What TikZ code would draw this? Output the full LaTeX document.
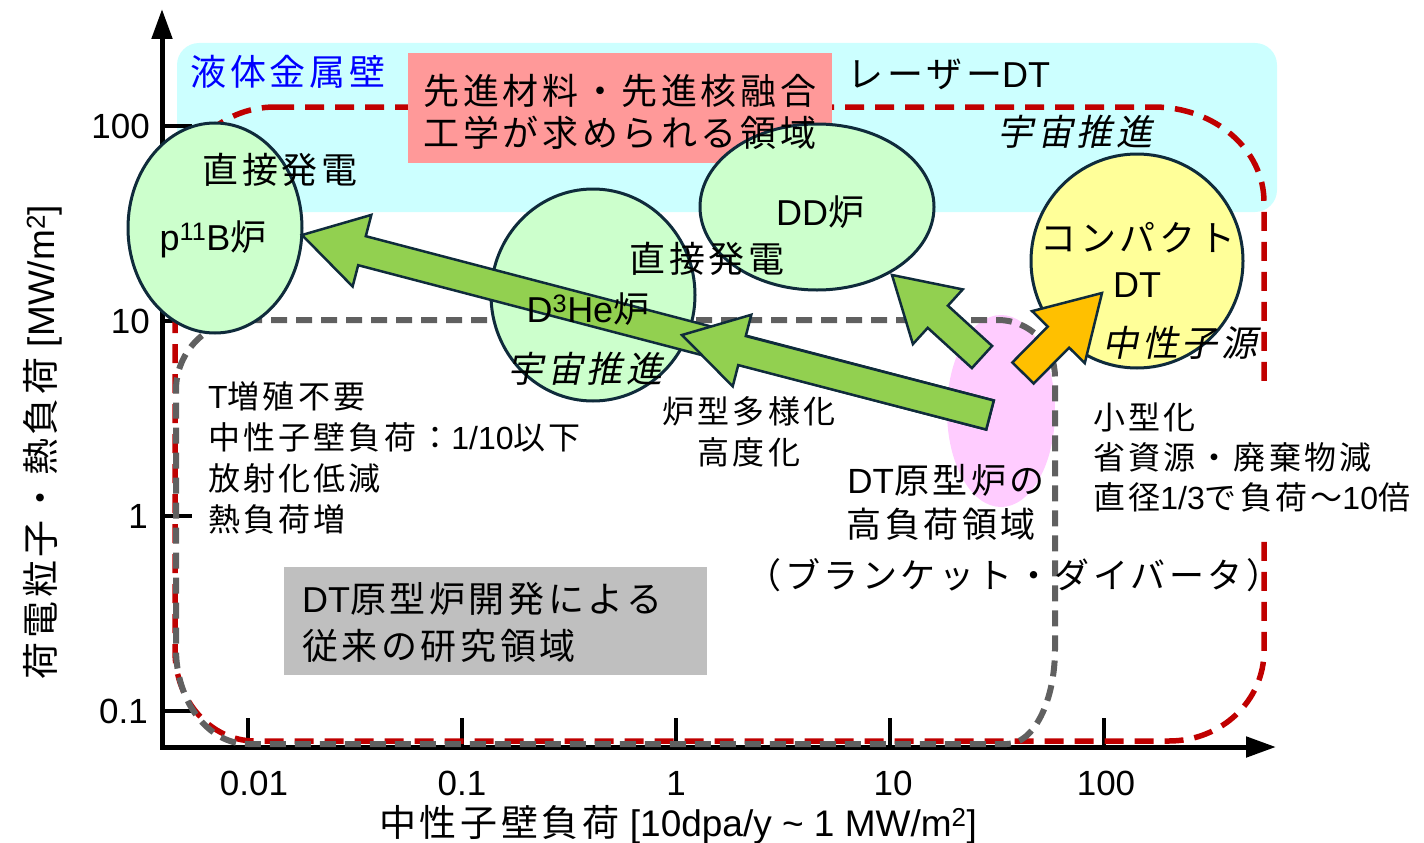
\documentclass[tikz,border=0pt]{standalone}
\usepackage{fontspec}
\setmainfont{Liberation Sans}
\newfontfamily\J[LetterSpace=10]{Noto Sans CJK JP}
\newfontfamily\Jit[LetterSpace=10,FakeSlant=0.2]{Noto Sans CJK JP}
\usetikzlibrary{calc,arrows.meta,shapes.geometric}
\definecolor{cyanbg}{HTML}{CCFFFF}
\definecolor{pinkbox}{HTML}{FF9999}
\definecolor{lgreen}{HTML}{CCFFCC}
\definecolor{lyellow}{HTML}{FFFF99}
\definecolor{pinkell}{HTML}{FFCCFF}
\definecolor{graybox}{HTML}{BFBFBF}
\definecolor{agreen}{HTML}{92D050}
\definecolor{aorange}{HTML}{FFC000}
\definecolor{outl}{HTML}{0F2B3B}
\definecolor{redd}{HTML}{C00000}
\definecolor{grayd}{HTML}{606060}
\newcommand\fs[1]{\fontsize{#1}{#1}\selectfont}
\newcommand\blockarrow[3]{%
  \coordinate (ba-n) at ($(#2)!62pt!(#1)$);
  \draw[arr, fill=#3]
    ($(#1)!15pt!90:(#2)$) -- ($(ba-n)!15pt!90:(#2)$) -- ($(ba-n)!37pt!90:(#2)$)
    -- (#2) -- ($(ba-n)!37pt!-90:(#2)$) -- ($(ba-n)!15pt!-90:(#2)$)
    -- ($(#1)!15pt!-90:(#2)$) -- cycle;
}
\begin{document}
\begin{tikzpicture}[x=1pt,y=-1pt,
  every node/.style={inner sep=0pt},
  big/.style={font=\fs{36}},
  note/.style={font=\fs{32}},
  tick/.style={font=\fs{35}},
  ell/.style={ellipse, draw=outl, line width=3pt},
  arr/.style={draw=outl, line width=2.5pt, line join=miter},
  reddash/.style={draw=redd, line width=5.5pt, dash pattern=on 19pt off 11pt},
  graydash/.style={draw=grayd, line width=6pt, dash pattern=on 16pt off 9pt},
  axis/.style={line width=5pt, {Triangle[length=30pt,width=20pt]}-{Triangle[length=30pt,width=20pt]}},
]
\useasboundingbox (0,0) rectangle (1424,843);

% cyan band
\fill[cyanbg, rounded corners=22pt] (177,43) rectangle (1277,212);

% axes
\coordinate (ytop) at (162,9);
\coordinate (orig) at (162,747);
\coordinate (xend) at (1276,747);
\draw[axis] (ytop) -- (orig) -- (xend);
\foreach \y in {126,321,516,711} \draw[line width=4pt] (162,\y) -- (192,\y);
\foreach \x in {248,462,676,890,1104} \draw[line width=3.5pt] (\x,747) -- (\x,718);

\node[tick, anchor=east] (y100) at (150,126) {100};
\node[tick, anchor=east] (y10) at (150,321) {10};
\node[tick, anchor=east] (y1) at (148,516) {1};
\node[tick, anchor=east] (y01) at (148,711) {0.1};
\node[tick] (x001) at (254,783) {0.01};
\node[tick] (x01) at (462,783) {0.1};
\node[tick] (x1) at (676,783) {1};
\node[tick] (x10) at (893,783) {10};
\node[tick] (x100) at (1106,783) {100};

\node[font=\fs{37}, anchor=base] (xlab) at (678,836) {{\J 中性子壁負荷} [10dpa/y \textasciitilde{} 1 MW/m\textsuperscript{2}]};
\node[font=\fs{37}, anchor=base, rotate=90] (ylab) at (54,442) {{\J 荷電粒子・熱負荷} [MW/m\textsuperscript{2}]};

% red dashed region
\draw[reddash] (275,107) -- (1154,107)
  .. controls (1214.7,107) and (1264,149.6) .. (1264,202)
  -- (1264,651)
  .. controls (1264,700.7) and (1221.4,741) .. (1169,741)
  -- (255,741)
  .. controls (210.8,741) and (175,700.7) .. (175,651)
  -- (175,207)
  .. controls (175,151.8) and (219.8,107) .. cycle;

% pink hot spot
\node[ellipse, fill=pinkell, minimum width=108pt, minimum height=192pt] (hot) at (1001,411) {};

% gray dashed region
\draw[graydash] (246,320) -- (998,320)
  .. controls (1029.5,320) and (1055,345.5) .. (1055,377)
  -- (1055,649)
  .. controls (1055,701.4) and (1033.5,744) .. (1007,744)
  -- (248,744)
  .. controls (208.3,744) and (176,701.4) .. (176,649)
  -- (176,390)
  .. controls (176,351.4) and (207.4,320) .. cycle;

% boxes
\node[fill=pinkbox, minimum width=424pt, minimum height=110pt] (advbox) at (620,108) {};
\node[fill=graybox, minimum width=423pt, minimum height=108pt] (convbox) at (495.5,621) {};
\node[fill=white, minimum width=340pt, minimum height=148pt] (rbox) at (1254,457.5) {};

% ellipses
\node[ell, fill=lgreen, minimum width=174pt, minimum height=210pt] (pb) at (215,228) {};
\node[ell, fill=lgreen, minimum width=204pt, minimum height=212pt] (dhe) at (593,295) {};
\node[ell, fill=lgreen, minimum width=234pt, minimum height=166pt] (dd) at (817,207) {};
\node[ell, fill=lyellow, minimum width=212pt, minimum height=214pt] (cdt) at (1137,261) {};

% arrows
\coordinate (tailA) at (990,415);
\coordinate (tipPB) at (302,235);
\coordinate (tipDHE) at (682,335);
\coordinate (tailDD) at (982,357);
\coordinate (tipDD) at (892,275);
\coordinate (tailC) at (1023,373);
\coordinate (tipC) at (1102,293);
\blockarrow{tailA}{tipPB}{agreen}
\blockarrow{tailA}{tipDHE}{agreen}
\blockarrow{tailDD}{tipDD}{agreen}
\blockarrow{tailC}{tipC}{aorange}

% texts
\node[big, anchor=base, text=blue] (lm) at (288,85) {\J 液体金属壁};
\node[big, anchor=base] (laser) at (949,88) {{\J レーザー}DT};
\node[big, anchor=base] (adv1) at (620,104) {\J 先進材料・先進核融合};
\node[big, anchor=base] (adv2) at (620,146) {\J 工学が求められる領域};
\node[big, anchor=base] (space1) at (1075,145) {\Jit 宇宙推進};
\node[big, anchor=base] (dp1) at (280,183) {\J 直接発電};
\node[big, anchor=base] (pbl) at (213,250) {p\textsuperscript{11}B{\J 炉}};
\node[big, anchor=base] (ddl) at (820,225) {DD{\J 炉}};
\node[big, anchor=base] (dp2) at (707,272) {\J 直接発電};
\node[big, anchor=base] (dhel) at (588,322) {D\textsuperscript{3}He{\J 炉}};
\node[big, anchor=base] (space2) at (585,382) {\Jit 宇宙推進};
\node[big, anchor=base] (cdt1) at (1138,251) {\J コンパクト};
\node[big, anchor=base] (cdt2) at (1137,297) {DT};
\node[big, anchor=base] (ns) at (1180,356) {\Jit 中性子源};

\node[note, anchor=base west] (l1) at (208,408) {T{\J 増殖不要}};
\node[note, anchor=base west] (l2) at (208,449) {{\J 中性子壁負荷：}1/10{\J 以下}};
\node[note, anchor=base west] (l3) at (208,490) {\J 放射化低減};
\node[note, anchor=base west] (l4) at (208,531) {\J 熱負荷増};

\node[note, anchor=base] (m1) at (749,423) {\J 炉型多様化};
\node[note, anchor=base] (m2) at (749,464) {\J 高度化};

\node[font=\fs{35}, anchor=base] (h1) at (946,493) {DT{\J 原型炉の}};
\node[font=\fs{35}, anchor=base] (h2) at (941,537) {\J 高負荷領域};
\node[font=\fs{35}, anchor=base] (h3) at (1014,588) {\J （ブランケット・ダイバータ）};

\node[note, anchor=base west] (r1) at (1093,429) {\J 小型化};
\node[note, anchor=base west] (r2) at (1093,469) {\J 省資源・廃棄物減};
\node[note, anchor=base west] (r3) at (1093,509) {{\J 直径}1/3{\J で負荷～}10{\J 倍}};

\node[big, anchor=base west] (c1) at (302,612) {DT{\J 原型炉開発による}};
\node[big, anchor=base west] (c2) at (302,659) {\J 従来の研究領域};
\end{tikzpicture}
\end{document}
